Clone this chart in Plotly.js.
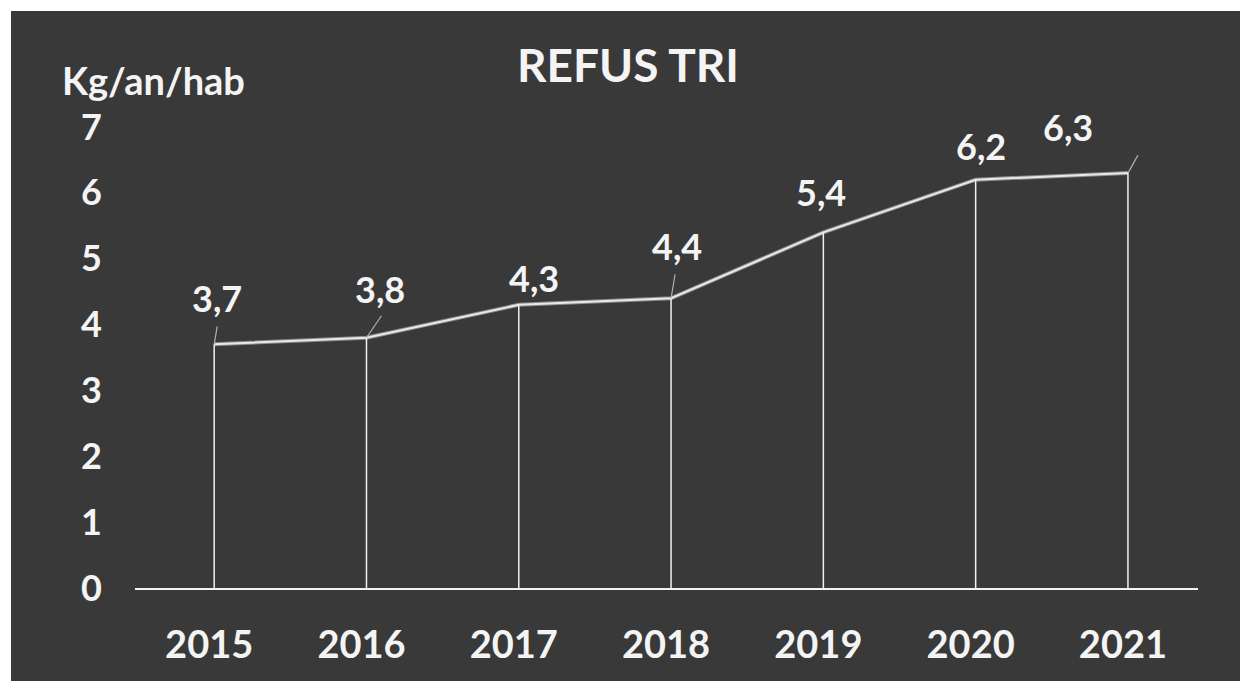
<!DOCTYPE html>
<html>
<head>
<meta charset="utf-8">
<script src="https://cdn.plot.ly/plotly-3.0.1.min.js"></script>
<style>
  html, body { margin:0; padding:0; background:#ffffff; width:1240px; height:681px; overflow:hidden; }
  #chart { position:absolute; left:11px; top:11px; width:1229px; height:670px; }
</style>
</head>
<body>
<div id="chart"></div>
<script>
// Data
const years = ["2015", "2016", "2017", "2018", "2019", "2020", "2021"];
const values = [3.7, 3.8, 4.3, 4.4, 5.4, 6.2, 6.3];
const yTicks = [0, 1, 2, 3, 4, 5, 6, 7];
const chartTitle = "REFUS TRI";
const yUnit = "Kg/an/hab";

// label placement (pixel offsets from each point) and leader lines
const labelShiftX = [3, 14, 15, 6, -2, 5, -60];
const labelShiftY = [46, 49, 27, 52, 40, 34, 46];
const leaders = [[0, 3, 18], [1, 15, 22], [3, 4, 24], [6, 10, 18]];

const FONT = "Lato, 'Open Sans', sans-serif";
const TXT = "#f4f4f4";
const BG = "#393939";

const traces = [
  { // soft shadow under the line
    x: years, y: values, type: "scatter", mode: "lines",
    line: { color: "rgba(150,150,150,0.9)", width: 4 },
    hoverinfo: "skip", showlegend: false
  },
  {
    x: years, y: values, type: "scatter", mode: "lines",
    line: { color: "#e8e8e8", width: 2 },
    error_y: { type: "data", symmetric: false, array: values.map(() => 0), arrayminus: values,
               color: "#f0f0f0", thickness: 1.5, width: 0 },
    showlegend: false
  }
];

const annotations = values.map((v, i) => ({
  x: i, y: v, xref: "x", yref: "y",
  text: String(v).replace(".", ","), showarrow: false,
  xshift: labelShiftX[i], yshift: labelShiftY[i],
  font: { family: FONT, size: 36, color: TXT, weight: "bold" }
}));
annotations.push({
  xref: "paper", yref: "paper", x: -0.0706, y: 1.0, xanchor: "left", yanchor: "middle",
  yshift: 47, text: yUnit, showarrow: false,
  font: { family: FONT, size: 38, color: TXT, weight: "bold" }
});

const shapes = leaders.map(([i, dx, dy]) => ({
  type: "line", xref: "x", yref: "y",
  xsizemode: "pixel", ysizemode: "pixel",
  xanchor: i, yanchor: values[i],
  x0: 0, y0: 0, x1: dx, y1: dy,
  line: { color: "#b0b0b0", width: 1.2 }
}));

const layout = {
  width: 1229, height: 670,
  paper_bgcolor: BG, plot_bgcolor: BG,
  margin: { l: 124, r: 42, t: 116, b: 93 },
  title: {
    text: chartTitle, x: 0.502, xanchor: "center", y: 0.918, yanchor: "middle",
    font: { family: FONT, size: 46, color: TXT, weight: "bold" }
  },
  xaxis: {
    type: "category", range: [-0.52, 6.46],
    showgrid: false, zeroline: false,
    showline: true, linecolor: "#f2f2f2", linewidth: 2,
    ticks: "", ticklabelstandoff: 22, ticklabelshift: -5,
    tickfont: { family: FONT, size: 38, color: TXT, weight: "bold" }
  },
  yaxis: {
    range: [0, 7], tickvals: yTicks, ticktext: yTicks.map(String),
    showgrid: false, zeroline: false, showline: false,
    ticks: "", ticklabelstandoff: 32,
    tickfont: { family: FONT, size: 36, color: TXT, weight: "bold" }
  },
  annotations: annotations,
  shapes: shapes,
  showlegend: false
};

Plotly.newPlot("chart", traces, layout, { displayModeBar: false, staticPlot: true });
</script>
</body>
</html>
